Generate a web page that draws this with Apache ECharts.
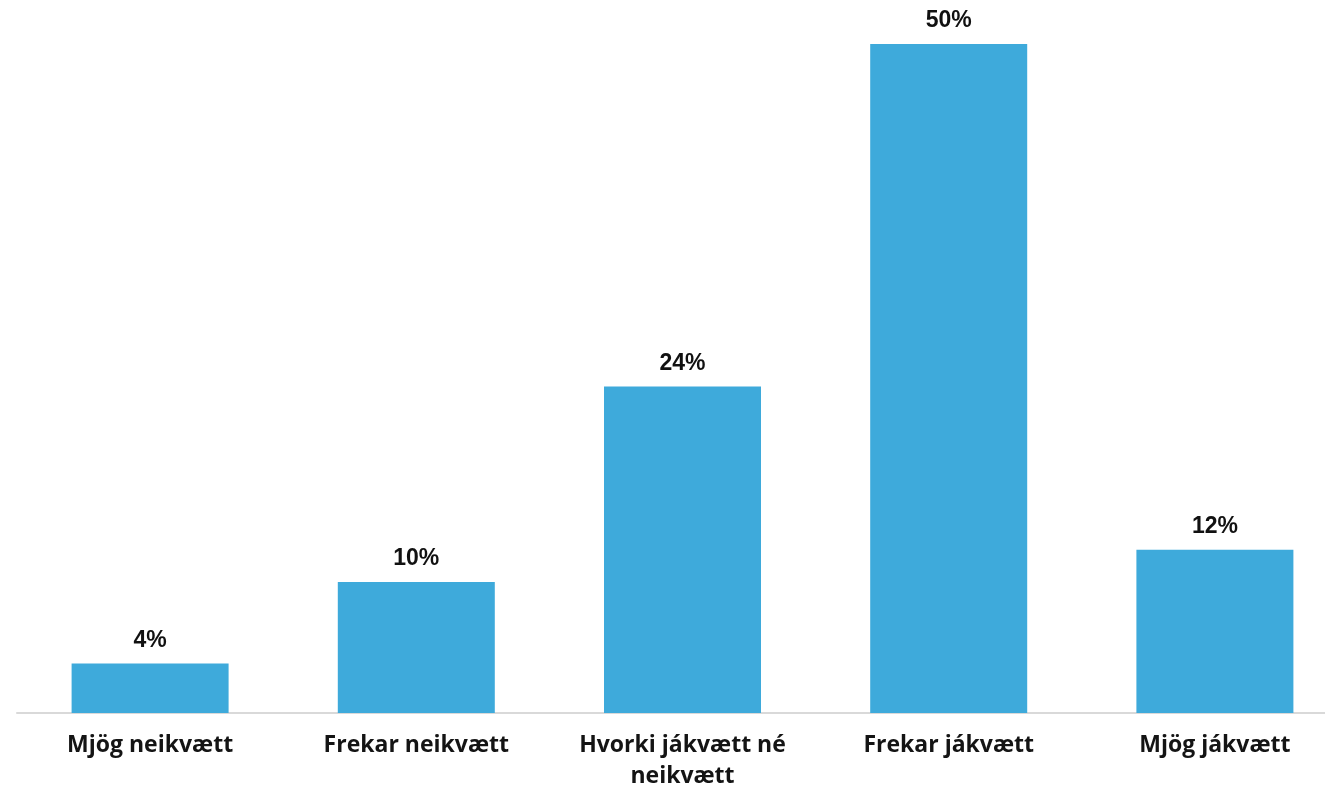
<!DOCTYPE html>
<html>
<head>
<meta charset="utf-8">
<script src="https://cdn.jsdelivr.net/npm/echarts@6/dist/echarts.min.js"></script>
<style>html,body{margin:0;padding:0;background:#fff;}#chart{width:1325px;height:789px;}</style>
</head>
<body>
<div id="chart"></div>
<script>
const categories = ['Mjög neikvætt', 'Frekar neikvætt', 'Hvorki jákvætt né\nneikvætt', 'Frekar jákvætt', 'Mjög jákvætt'];
const values = [3.7, 9.8, 24.4, 50, 12.2];

const chart = echarts.init(document.getElementById('chart'));
chart.setOption({
  animation: false,
  grid: { left: 17, width: 1331, top: 44, height: 669, containLabel: false, outerBoundsMode: 'none' },
  xAxis: {
    type: 'category',
    data: categories,
    axisLine: { show: true, lineStyle: { color: '#d9d9d9', width: 2 } },
    axisTick: { show: false },
    axisLabel: {
      interval: 0,
      margin: 17,
      fontFamily: 'Open Sans',
      fontWeight: 'bold',
      fontSize: 23,
      lineHeight: 31,
      color: '#141414'
    }
  },
  yAxis: {
    type: 'value',
    min: 0,
    max: 50,
    show: false,
    splitLine: { show: false }
  },
  series: [{
    type: 'bar',
    data: values,
    barWidth: 157,
    itemStyle: { color: '#3eaadb' },
    label: {
      show: true,
      position: 'top',
      distance: 11.5,
      formatter: function (p) { return Math.round(p.value) + '%'; },
      fontFamily: 'Liberation Sans',
      fontWeight: 'bold',
      fontSize: 23,
      color: '#111'
    }
  }]
});
</script>
</body>
</html>
